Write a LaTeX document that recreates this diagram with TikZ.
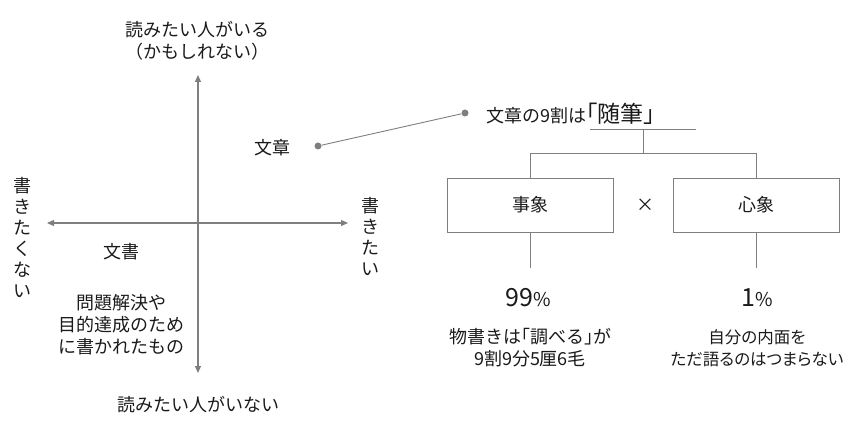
\documentclass[tikz,border=0pt]{standalone}
\usepackage{fontspec}
\setmainfont{Noto Sans CJK JP}
\newfontfamily\paltfont[RawFeature=+palt]{Noto Sans CJK JP}
\usepackage{xcolor}
\usetikzlibrary{arrows.meta,positioning}
\definecolor{axisgray}{HTML}{7F7F7F}
\definecolor{inkblack}{HTML}{1A1A1A}
\tikzset{
  labelnode/.style={inner sep=0pt,align=center,text=inkblack,font=\fontsize{18}{22}\selectfont},
  tatenode/.style={inner sep=0pt,align=center,text=inkblack,font=\fontsize{18}{21}\selectfont},
  bignode/.style={inner sep=0pt,text=inkblack,font=\fontsize{25}{25}\selectfont},
  boxnode/.style={draw=axisgray,line width=0.9pt,minimum width=166pt,minimum height=54pt,inner sep=0pt,text=inkblack,font=\fontsize{18}{22}\selectfont},
  axisarrow/.style={{Triangle[length=7pt,width=6pt]}-{Triangle[length=7pt,width=6pt]},draw=axisgray,fill=axisgray,line width=1.2pt},
  treeline/.style={draw=axisgray,line width=0.9pt},
  dotend/.style={circle,fill=axisgray,inner sep=0pt,minimum size=7pt},
}
\newcommand{\pct}{{\fontsize{19}{19}\selectfont\%}}

\begin{document}
\begin{tikzpicture}[x=1pt,y=-1pt]
  \useasboundingbox (0,0) rectangle (854,446);
  % axes
  \coordinate (ytop) at (198,75);
  \coordinate (ybot) at (198,373);
  \coordinate (xleft) at (47,223);
  \coordinate (xright) at (348,223);
  \draw[axisarrow] (ybot) -- (ytop);
  \draw[axisarrow] (xleft) -- (xright);
  \node[labelnode] (yes) at (197,41) {読みたい人がいる\\（かもしれない）};
  \node[labelnode] (no) at (198,405) {読みたい人がいない};
  \node[tatenode] (notwant) at (22,238) {書\\き\\た\\く\\な\\い};
  \node[tatenode] (want) at (370,237) {書\\き\\た\\い};
  \node[labelnode] (bunsho) at (121,252) {文書};
  \node[labelnode] (purpose) at (121,325) {問題解決や\\目的達成のため\\に書かれたもの};
  % link
  \node[labelnode] (bunsho2) at (272,148) {文章};
  \node[dotend] (dotA) at (318,146) {};
  \node[dotend] (dotB) at (465,113) {};
  \draw[treeline] (dotA) -- (dotB);
  \node[labelnode,anchor=west] (title) at (486,114) {文章の9割は{\fontsize{23}{23}\selectfont｢随筆｣}};
  % tree
  \coordinate (ulleft) at (590,129);
  \coordinate (ulright) at (696,129);
  \coordinate (branch) at (643,129);
  \coordinate (fork) at (643,153);
  \draw[treeline] (ulleft) -- (ulright);
  \draw[treeline] (branch) -- (fork);
  \node[boxnode] (jisho) at (530,205) {事象};
  \node[boxnode] (shinsho) at (756,205) {心象};
  \node[labelnode] (times) at (645,205) {×};
  \draw[treeline] (fork) -| (jisho.north);
  \draw[treeline] (fork) -| (shinsho.north);
  \coordinate (stubA) at (530,268);
  \coordinate (stubB) at (756,268);
  \draw[treeline] (jisho.south) -- (stubA);
  \draw[treeline] (shinsho.south) -- (stubB);
  % results
  \node[bignode] (ninetynine) at (528,298) {99\pct};
  \node[bignode] (one) at (757,298) {1\pct};
  \node[labelnode] (research) at (530,348) {物書きは｢調べる｣が\\9割9分5厘6毛};
  \node[labelnode,font=\fontsize{16.5}{22}\paltfont] (inner) at (757,348) {自分の内面を\\ただ語るのはつまらない};
\end{tikzpicture}
\end{document}
